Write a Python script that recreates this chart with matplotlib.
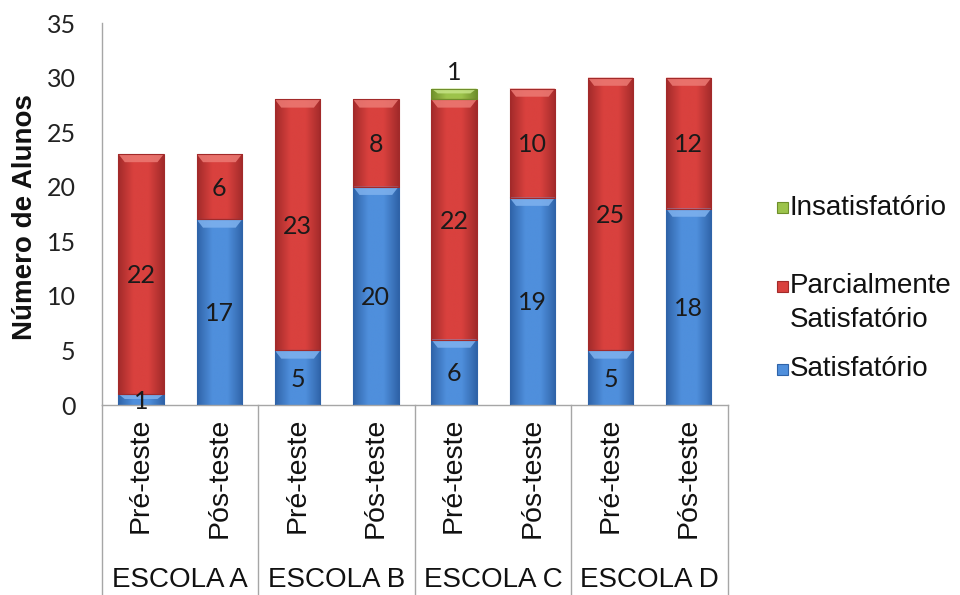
import matplotlib
matplotlib.use("Agg")
import matplotlib.pyplot as plt
import numpy as np
from matplotlib.colors import LinearSegmentedColormap
from matplotlib.patches import Polygon, Rectangle

# ---- data ----
escolas = ["ESCOLA A", "ESCOLA B", "ESCOLA C", "ESCOLA D"]
momentos = ["Pré-teste", "Pós-teste"]
satisfatorio = [1, 17, 5, 20, 6, 19, 5, 18]
parcial = [22, 6, 23, 8, 22, 10, 25, 12]
insatisfatorio = [0, 0, 0, 0, 1, 0, 0, 0]
nomes_series = ["Satisfatório", "Parcialmente\nSatisfatório", "Insatisfatório"]
y_ticks = [0, 5, 10, 15, 20, 25, 30, 35]

# ---- styles ----
cores = {
    "Satisfatório": ("#2F63A8", "#4F8FDC", "#7FB2EE"),
    "Parcialmente\nSatisfatório": ("#A22A2A", "#D9413E", "#EC7A74"),
    "Insatisfatório": ("#6E8E2A", "#9CC34B", "#C6E486"),
}
fonte_txt = "Liberation Sans"
fonte_num = "Lato"

fig = plt.figure(figsize=(9.6, 5.95), dpi=100)
ax = fig.add_axes([0.10625, 0.3193, 0.652, 0.642])

x = np.arange(len(satisfatorio))
largura = 0.58


def pinta_barras(bars, nome):
    escuro, medio, claro = cores[nome]
    cmap = LinearSegmentedColormap.from_list(
        nome, [escuro, medio, medio, escuro], N=256)
    grad = np.linspace(0, 1, 200).reshape(1, -1)
    for b in bars:
        h = b.get_height()
        if h <= 0:
            continue
        x0, y0, w = b.get_x(), b.get_y(), b.get_width()
        im = ax.imshow(grad, extent=[x0, x0 + w, y0, y0 + h], aspect="auto",
                       cmap=cmap, zorder=2, interpolation="bilinear")
        im.set_clip_path(b)
        # bevel highlight along the top edge
        bb = min(0.75, h * 0.45)
        d = w * 0.14
        top = y0 + h
        ax.add_patch(Polygon([(x0, top), (x0 + w, top), (x0 + w - d, top - bb),
                              (x0 + d, top - bb)], closed=True,
                             facecolor=claro, edgecolor="none", alpha=0.85,
                             zorder=3))
        ax.add_patch(Rectangle((x0, y0), w, h, facecolor="none",
                               edgecolor=escuro, linewidth=0.8, zorder=4))


base = np.zeros(len(x))
for vals, nome in zip([satisfatorio, parcial, insatisfatorio], nomes_series):
    vals = np.array(vals, dtype=float)
    bars = ax.bar(x, vals, largura, bottom=base, color="none",
                  edgecolor="none", zorder=1)
    pinta_barras(bars, nome)
    for xi, v, b0 in zip(x, vals, base):
        if v <= 0:
            continue
        if nome == "Insatisfatório":
            ax.text(xi, b0 + v + 1.5, f"{int(v)}", ha="center", va="center",
                    fontsize=18, family=fonte_num, color="#1A1A1A", zorder=5)
        else:
            ax.text(xi, b0 + v / 2 - 0.15, f"{int(v)}", ha="center",
                    va="center", fontsize=18, family=fonte_num,
                    color="#1A1A1A", zorder=5)
    base = base + vals

ax.set_xlim(-0.5, len(x) - 0.5)
ax.set_ylim(0, 35)
ax.set_yticks(y_ticks)
ax.set_yticklabels([str(t) for t in y_ticks], family=fonte_num, fontsize=18,
                   color="#222222")
ax.tick_params(axis="y", length=0, pad=19)
ax.set_xticks([])

for s in ["top", "right"]:
    ax.spines[s].set_visible(False)
for s in ["left", "bottom"]:
    ax.spines[s].set_color("#A6A6A6")
    ax.spines[s].set_linewidth(1.0)

# category labels (two levels)
for i, xi in enumerate(x):
    ax.text(xi, -0.033, momentos[i % 2], transform=ax.get_xaxis_transform(),
            rotation=90, ha="center", va="top", fontsize=20.5, family=fonte_txt,
            color="#111111")
for g, nome in enumerate(escolas):
    ax.text(2 * g + 0.5, -0.458, nome, transform=ax.get_xaxis_transform(),
            ha="center", va="center", fontsize=20, family=fonte_txt,
            color="#111111")
for g in range(len(escolas) + 1):
    ax.plot([2 * g - 0.5, 2 * g - 0.5], [0, -0.5],
            transform=ax.get_xaxis_transform(), color="#A6A6A6", lw=1.0,
            clip_on=False, zorder=1)

fig.text(25 / 960, 0.635, "Número de Alunos", rotation=90, ha="center",
         va="center", fontsize=20, fontweight="bold", family=fonte_txt,
         color="#111111")

# legend
leg_items = [("Insatisfatório", 208), ("Parcialmente\nSatisfatório", 286),
             ("Satisfatório", 369)]
for nome, ypx in leg_items:
    escuro, medio, claro = cores[nome]
    fy = 1 - ypx / 595
    fig.patches.append(Rectangle((777 / 960, fy - 5.5 / 595), 11 / 960,
                                 11 / 595, transform=fig.transFigure,
                                 facecolor=medio, edgecolor=escuro, lw=0.8))
    for k, linha in enumerate(nome.split("\n")):
        fig.text(790 / 960, 1 - (ypx + 34 * k) / 595, linha, ha="left",
                 va="center", fontsize=20, family=fonte_txt, color="#111111")

fig.savefig("out.png", dpi=100)
